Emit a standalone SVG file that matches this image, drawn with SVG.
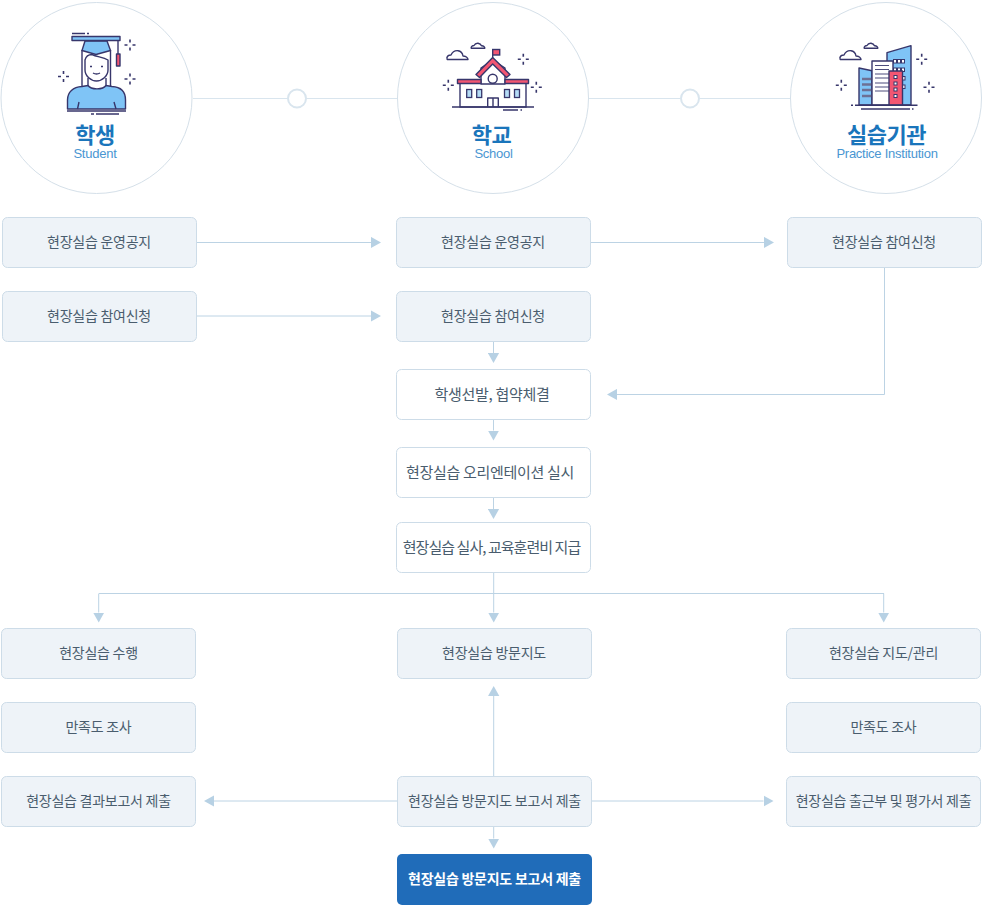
<svg xmlns="http://www.w3.org/2000/svg" width="983" height="905" viewBox="0 0 983 905">
<style>
text{font-family:"Noto Sans CJK KR","Noto Sans",sans-serif;text-anchor:middle}
.b{fill:#eef3f8;stroke:#cddce8;stroke-width:1}
.w{fill:#fff;stroke:#cddce8;stroke-width:1}
.t{font-size:14px;letter-spacing:-.25px;fill:#4a5d6e}
.t2{font-size:15px;letter-spacing:-.3px;fill:#4a5d6e}
.t3{font-size:15px;letter-spacing:-.95px;fill:#4a5d6e}
.ti{font-size:22px;font-weight:700;letter-spacing:-.5px;fill:#1a75bb}
.en{font-family:"Liberation Sans",Arial,sans-serif;font-size:13px;letter-spacing:-.25px;fill:#4a96d2}
.c{fill:#fff;stroke:#d5e0e9;stroke-width:1}
.l{fill:none;stroke:#bcd3e4;stroke-width:1}
.k{fill:none;stroke:#d9e5ee;stroke-width:1}
.s{fill:none;stroke:#37366b;stroke-width:1.4;stroke-linejoin:round}
.f{fill:#7fc4f6;stroke:#37366b;stroke-width:1.4;stroke-linejoin:round}
.r{fill:#f25672;stroke:#37366b;stroke-width:1.4;stroke-linejoin:round}
.n{fill:#fff;stroke:#37366b;stroke-width:1.4;stroke-linejoin:round}
.sp{fill:none;stroke:#37366b;stroke-width:1.6}
</style>
<defs>
<marker id="a" markerUnits="userSpaceOnUse" markerWidth="11" markerHeight="12" refX="0" refY="6" orient="auto"><path d="M0 .4L10 6L0 11.600z" fill="#b7d1e4"/></marker>
<path id="spark" d="M0-5.500V-2.500M0 2.500V5.500M-5.500 0H-2.500M2.500 0H5.500" class="sp"/>
<path id="cl1" d="M.7 9.500C-.5 6.500 2 5 4.500 5C6 1.500 9 .5 11.500 .7C14 1 16 3 16.500 6C19 6 21.500 7.500 21.500 9.500z" class="n"/>
<path id="cl2" d="M.7 5.700C.3 4 2 3 3.500 3C4.500 1 6 .6 7.500 .7C9.500 1 10.500 2 11 3.200C13 3 14.500 4.500 14.300 5.700z" class="n"/>
</defs>

<g id="connectors">
<path class="k" d="M193 98.500H288M306 98.500H397M589 98.500H681M699 98.500H790"/>
<circle cx="297" cy="98.500" r="9" fill="#fff" stroke="#d9e5ee" stroke-width="2"/>
<circle cx="690" cy="98.500" r="9" fill="#fff" stroke="#d9e5ee" stroke-width="2"/>
<path class="l" marker-end="url(#a)" d="M197 242.500H371"/>
<path class="l" marker-end="url(#a)" d="M591 242.500H764"/>
<path class="l" marker-end="url(#a)" d="M197 316H371"/>
<path class="l" marker-end="url(#a)" d="M493.500 342V353"/>
<path class="l" marker-end="url(#a)" d="M884.500 268V394.500H617"/>
<path class="l" marker-end="url(#a)" d="M493.500 420V430.500"/>
<path class="l" marker-end="url(#a)" d="M493.500 498V509"/>
<path class="l" d="M99 593.500H884"/>
<path class="l" marker-end="url(#a)" d="M493.700 573V612.500"/>
<path class="l" marker-end="url(#a)" d="M98.700 593.500V612.500"/>
<path class="l" marker-end="url(#a)" d="M883.700 593.500V612.500"/>
<path class="l" marker-end="url(#a)" d="M493.700 776V696"/>
<path class="l" marker-end="url(#a)" d="M397 801H214"/>
<path class="l" marker-end="url(#a)" d="M592 801H763.500"/>
<path class="l" marker-end="url(#a)" d="M493.700 827V838.500"/>
</g>

<g id="node-student">
<circle class="c" cx="96.500" cy="98" r="95.500"/>
<g>
<path class="s" d="M82 50V86M110.500 50V86"/>
<path class="n" d="M85 60C86 56 89 54.500 92 54.500C97 57 103 57 108 60V70C108 76 102 81 96.500 81C91 81 85 76 85 70z"/>
<path class="f" d="M85 41L82 50.500L96 54.500L110.500 50.500L107 41z"/>
<path class="f" d="M67.500 109V100C67.500 92 73 87 82 86.500L88 85.500C91 90 103 90 106 85.500L112 86.500C121 87 125.500 92 125.500 100V109z"/>
<path class="s" d="M88 78V85.500M106 78V85.500M79 102L77.500 109M114 102L116 109M93 73Q96.500 75 100 73"/>
<path d="M90 66.500h2M101 66.500h2" stroke="#37366b" stroke-width="1.400"/>
<path class="s" d="M67 111H126M91 114H94M96 114H119M72 33.500H85M87 33.500H89"/>
<rect class="f" x="72" y="36.500" width="48" height="4"/>
<path class="s" d="M118 40V54"/>
<rect class="r" x="116.500" y="54" width="3.500" height="12"/>
<use href="#spark" x="130" y="45"/><use href="#spark" x="63.500" y="76.500"/><use href="#spark" x="130" y="79"/>
</g>
<text class="ti" x="95" y="143">학생</text>
<text class="en" x="95" y="158">Student</text>
</g>

<g id="node-school">
<circle class="c" cx="493" cy="98" r="95.500"/>
<g>
<use href="#cl1" x="446.500" y="50"/><use href="#cl2" x="470.500" y="42.500"/>
<rect x="460" y="80" width="66" height="27" fill="#fff" stroke="#37366b" stroke-width="1.400"/>
<path class="n" d="M481 84V68L492.700 60L505 68V84z"/>
<rect class="r" x="457.500" y="79.500" width="23.500" height="4"/>
<rect class="r" x="505" y="79.500" width="23.500" height="4"/>
<path class="r" d="M492.700 57.500L476 74.500L479.500 77.500L492.700 64L506.500 77.500L510 74.500z"/>
<circle class="s" cx="492.700" cy="78.700" r="4.500"/>
<g fill="#b5dcf6" stroke="#37366b" stroke-width="1.300">
<rect x="466.700" y="89.500" width="5" height="8"/><rect x="476.700" y="89.500" width="5" height="8"/><rect x="504.500" y="89.500" width="5" height="8"/><rect x="514.500" y="89.500" width="5" height="8"/>
</g>
<path class="s" d="M487.700 107V98H498.300V107M493 98V107M452 107H534M503 110H518M520.500 110H522M492.700 57.500V49.500"/>
<rect x="492.700" y="49.500" width="7" height="5.500" fill="#f25672" stroke="#37366b" stroke-width="1.400"/>
<use href="#spark" x="523.300" y="59.300"/><use href="#spark" x="448.300" y="85.300"/><use href="#spark" x="536.300" y="87.300"/>
</g>
<text class="ti" x="491.500" y="143">학교</text>
<text class="en" x="493.500" y="158">School</text>
</g>

<g id="node-institution">
<circle class="c" cx="886" cy="98" r="95.500"/>
<g>
<use href="#cl1" x="839.500" y="50"/><use href="#cl2" x="863.500" y="42.500"/>
<path class="f" d="M887 52.700L911 45.700V105H887z"/>
<g fill="#fff" stroke="#37366b" stroke-width="1">
<rect x="893.500" y="59.500" width="3" height="3.500"/><rect x="897.500" y="59.500" width="3" height="3.500"/><rect x="901.500" y="59.500" width="3" height="3.500"/>
<rect x="893.500" y="68" width="3" height="3.500"/><rect x="897.500" y="68" width="3" height="3.500"/><rect x="901.500" y="68" width="3" height="3.500"/>
<rect x="902.500" y="76.500" width="2.500" height="3.500"/><rect x="902.500" y="85" width="2.500" height="3.500"/>
</g>
<path class="f" d="M859 68L872 70.700V105H859z"/>
<path d="M862 79H872M862 84.500H872M862 90H872M862 96H872" stroke="#6d7094" stroke-width="2.500" fill="none"/>
<rect class="n" x="872" y="61" width="21" height="44"/>
<path d="M875 65.500H889M875 69.500H889M875 74H889M875 78H889M875 83H889M875 87H889M875 91H889" stroke="#4d4d7c" stroke-width="1.200" fill="none"/>
<rect class="r" x="889" y="71" width="13.500" height="34"/>
<g fill="#fff" stroke="#37366b" stroke-width="1">
<rect x="894" y="75.500" width="3" height="3"/><rect x="894" y="82" width="3" height="3"/><rect x="894" y="88" width="3" height="3"/><rect x="894" y="94.500" width="3" height="3"/>
</g>
<path class="s" d="M855 105.300H917.500M851 105.300H853M861 109H910M912 109H913.500"/>
<use href="#spark" x="921.700" y="59.300"/><use href="#spark" x="841.300" y="85.300"/><use href="#spark" x="929" y="87.300"/>
</g>
<text class="ti" x="886.500" y="143">실습기관</text>
<text class="en" x="887" y="158">Practice Institution</text>
</g>

<g id="n1"><rect class="b" x="2.500" y="217.500" width="194" height="50" rx="5"/><text class="t" x="99" y="247">현장실습 운영공지</text></g>
<g id="n2"><rect class="b" x="2.500" y="291.500" width="194" height="50" rx="5"/><text class="t" x="99" y="321">현장실습 참여신청</text></g>
<g id="n3"><rect class="b" x="396.500" y="217.500" width="194" height="50" rx="5"/><text class="t" x="493" y="247">현장실습 운영공지</text></g>
<g id="n4"><rect class="b" x="396.500" y="291.500" width="194" height="50" rx="5"/><text class="t" x="493" y="321">현장실습 참여신청</text></g>
<g id="n5"><rect class="b" x="787.500" y="217.500" width="194" height="50" rx="5"/><text class="t" x="884" y="247">현장실습 참여신청</text></g>
<g id="n6"><rect class="w" x="396.500" y="369.500" width="194" height="50" rx="5"/><text class="t2" x="492" y="399.500">학생선발, 협약체결</text></g>
<g id="n7"><rect class="w" x="396.500" y="447.500" width="194" height="50" rx="5"/><text class="t2" x="490" y="477.500">현장실습 오리엔테이션 실시</text></g>
<g id="n8"><rect class="w" x="396.500" y="522.500" width="194" height="50" rx="5"/><text class="t3" x="491.500" y="552.500">현장실습 실사, 교육훈련비 지급</text></g>
<g id="n9"><rect class="b" x="1.500" y="628.500" width="194" height="50" rx="5"/><text class="t" x="98.500" y="658">현장실습 수행</text></g>
<g id="n10"><rect class="b" x="1.500" y="702.500" width="194" height="50" rx="5"/><text class="t" x="98.500" y="732">만족도 조사</text></g>
<g id="n11"><rect class="b" x="1.500" y="776.500" width="194" height="50" rx="5"/><text class="t" x="98.500" y="806">현장실습 결과보고서 제출</text></g>
<g id="n12"><rect class="b" x="397.500" y="628.500" width="194" height="50" rx="5"/><text class="t" x="494" y="658">현장실습 방문지도</text></g>
<g id="n13"><rect class="b" x="397.500" y="776.500" width="194" height="50" rx="5"/><text class="t" x="494.500" y="806">현장실습 방문지도 보고서 제출</text></g>
<g id="n14"><rect x="397" y="854" width="195" height="51" rx="5" fill="#206cb9"/><text class="t" x="494.500" y="884" style="fill:#fff;font-weight:700">현장실습 방문지도 보고서 제출</text></g>
<g id="n15"><rect class="b" x="786.500" y="628.500" width="194" height="50" rx="5"/><text class="t" x="883.500" y="658">현장실습 지도/관리</text></g>
<g id="n16"><rect class="b" x="786.500" y="702.500" width="194" height="50" rx="5"/><text class="t" x="883.500" y="732">만족도 조사</text></g>
<g id="n17"><rect class="b" x="786.500" y="776.500" width="194" height="50" rx="5"/><text class="t" x="883.500" y="806">현장실습 출근부 및 평가서 제출</text></g>
</svg>
